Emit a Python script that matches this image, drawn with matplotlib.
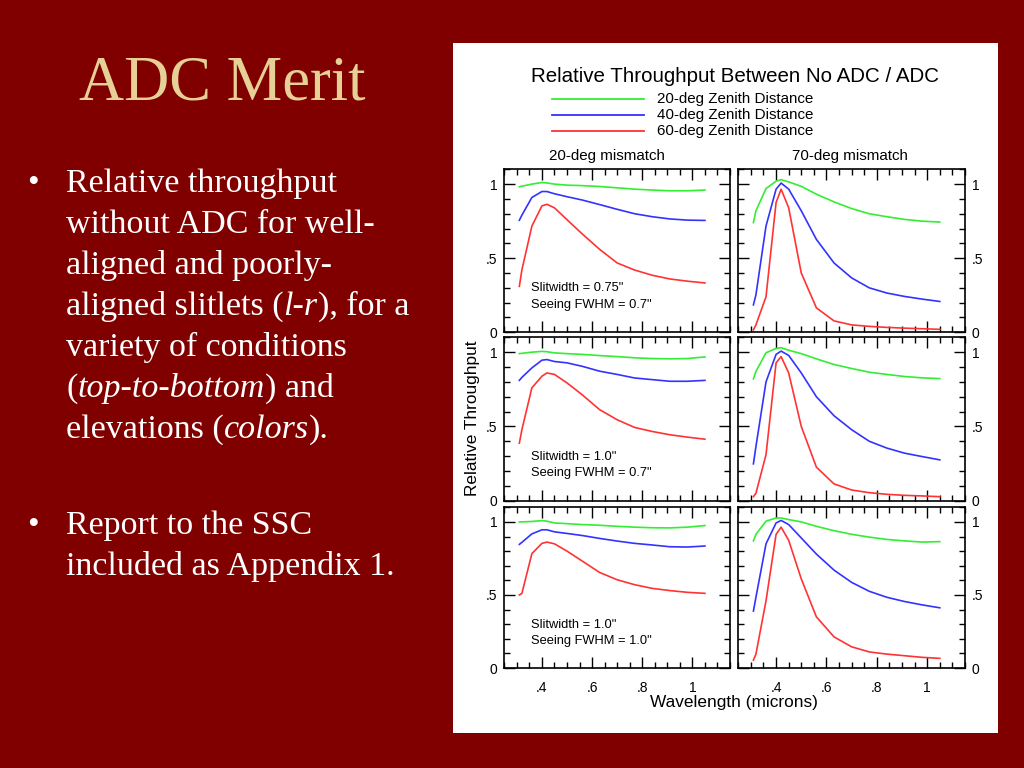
import numpy as np
import matplotlib
matplotlib.use('Agg')
import matplotlib.pyplot as plt
from matplotlib.lines import Line2D
from matplotlib.patches import Rectangle
from matplotlib.ticker import MultipleLocator

# ---- data ----
wavelength = [0.31, 0.32, 0.36, 0.40, 0.42, 0.45, 0.50, 0.56, 0.63, 0.70, 0.77, 0.84, 0.91, 0.98, 1.05]

# left column = 20-deg mismatch, right column = 70-deg mismatch
# row 1: slit 0.75" / seeing 0.7", row 2: slit 1.0" / seeing 0.7", row 3: slit 1.0" / seeing 1.0"
zd20_left1 = [0.982, 0.986, 1.0, 1.011, 1.008, 1.0, 0.993, 0.99, 0.984, 0.975, 0.966, 0.96, 0.955, 0.955, 0.96]
zd40_left1 = [0.756, 0.79, 0.91, 0.95, 0.95, 0.935, 0.915, 0.893, 0.862, 0.83, 0.80, 0.78, 0.765, 0.757, 0.755]
zd60_left1 = [0.31, 0.42, 0.717, 0.853, 0.864, 0.84, 0.76, 0.665, 0.56, 0.468, 0.42, 0.385, 0.36, 0.345, 0.333]

zd20_right1 = [0.74, 0.82, 0.97, 1.02, 1.03, 1.015, 0.985, 0.932, 0.88, 0.835, 0.80, 0.78, 0.762, 0.75, 0.744]
zd40_right1 = [0.185, 0.253, 0.717, 0.966, 1.007, 0.966, 0.82, 0.627, 0.468, 0.367, 0.30, 0.265, 0.242, 0.224, 0.208]
zd60_right1 = [0.016, 0.05, 0.24, 0.876, 0.966, 0.84, 0.40, 0.165, 0.077, 0.05, 0.04, 0.033, 0.028, 0.024, 0.02]

zd20_left2 = [0.99, 0.992, 1.0, 1.005, 1.003, 0.995, 0.99, 0.985, 0.977, 0.97, 0.962, 0.957, 0.955, 0.957, 0.968]
zd40_left2 = [0.81, 0.83, 0.894, 0.946, 0.95, 0.937, 0.928, 0.905, 0.872, 0.85, 0.826, 0.815, 0.804, 0.804, 0.81]
zd60_left2 = [0.387, 0.477, 0.76, 0.838, 0.86, 0.85, 0.793, 0.714, 0.613, 0.545, 0.493, 0.466, 0.444, 0.428, 0.414]

zd20_right2 = [0.82, 0.87, 0.996, 1.025, 1.03, 1.013, 0.99, 0.955, 0.917, 0.89, 0.865, 0.85, 0.836, 0.827, 0.822]
zd40_right2 = [0.248, 0.365, 0.80, 0.985, 1.007, 0.978, 0.86, 0.70, 0.572, 0.478, 0.40, 0.354, 0.32, 0.297, 0.275]
zd60_right2 = [0.027, 0.05, 0.31, 0.928, 0.97, 0.86, 0.50, 0.226, 0.113, 0.072, 0.054, 0.043, 0.036, 0.032, 0.027]

zd20_left3 = [1.0, 1.0, 1.003, 1.009, 1.005, 0.993, 0.988, 0.982, 0.977, 0.97, 0.964, 0.96, 0.959, 0.964, 0.975]
zd40_left3 = [0.846, 0.86, 0.918, 0.946, 0.946, 0.932, 0.921, 0.907, 0.887, 0.869, 0.853, 0.842, 0.83, 0.828, 0.835]
zd60_left3 = [0.50, 0.51, 0.783, 0.853, 0.862, 0.85, 0.80, 0.733, 0.654, 0.604, 0.57, 0.545, 0.53, 0.518, 0.511]

zd20_right3 = [0.87, 0.915, 1.005, 1.027, 1.027, 1.016, 1.0, 0.97, 0.94, 0.915, 0.896, 0.88, 0.87, 0.862, 0.865]
zd40_right3 = [0.39, 0.484, 0.85, 0.993, 1.01, 0.982, 0.89, 0.78, 0.67, 0.586, 0.525, 0.484, 0.455, 0.432, 0.412]
zd60_right3 = [0.054, 0.095, 0.46, 0.915, 0.964, 0.874, 0.61, 0.35, 0.213, 0.145, 0.11, 0.095, 0.084, 0.073, 0.066]

series_names = ['20-deg Zenith Distance', '40-deg Zenith Distance', '60-deg Zenith Distance']
column_titles = ['20-deg mismatch', '70-deg mismatch']
panel_notes = [('Slitwidth = 0.75"', 'Seeing FWHM = 0.7"'),
               ('Slitwidth = 1.0"', 'Seeing FWHM = 0.7"'),
               ('Slitwidth = 1.0"', 'Seeing FWHM = 1.0"')]
xtick_vals = [0.4, 0.6, 0.8, 1.0]
xtick_labels = ['.4', '.6', '.8', '1']
ytick_vals = [0, 0.5, 1]
ytick_labels = ['0', '.5', '1']

left_panels = [(zd20_left1, zd40_left1, zd60_left1),
               (zd20_left2, zd40_left2, zd60_left2),
               (zd20_left3, zd40_left3, zd60_left3)]
right_panels = [(zd20_right1, zd40_right1, zd60_right1),
                (zd20_right2, zd40_right2, zd60_right2),
                (zd20_right3, zd40_right3, zd60_right3)]

line_colors = ['#33ee33', '#3333ff', '#ff3333']
bg_red = '#800000'
title_gold = '#e6d096'
serif = 'Liberation Serif'
sans = 'Liberation Sans'

W, H = 1024, 768
fig = plt.figure(figsize=(W / 100, H / 100), dpi=100, facecolor=bg_red)


def px(x, y):
    return x / W, 1 - y / H


# white panel behind the plot
fig.add_artist(Rectangle(px(453, 733), 545 / W, 690 / H, transform=fig.transFigure,
                         facecolor='white', edgecolor='none', zorder=0))

# ---- slide text ----
fig.text(*px(222, 100), 'ADC Merit', family=serif, fontsize=45, color=title_gold,
         ha='center', va='baseline')

renderer = fig.canvas.get_renderer()


def draw_runs(x, y, runs, size=24.5):
    # runs: list of (text, italic?)
    fx, fy = px(x, y)
    for txt, it in runs:
        t = fig.text(fx, fy, txt, family=serif, fontsize=size, color='white',
                     style='italic' if it else 'normal', ha='left', va='baseline')
        bb = t.get_window_extent(renderer=renderer)
        fx += bb.width / W


bullet1 = [
    [('Relative throughput', False)],
    [('without ADC for well-', False)],
    [('aligned and poorly-', False)],
    [('aligned slitlets (', False), ('l-r', True), ('), for a', False)],
    [('variety of conditions', False)],
    [('(', False), ('top-to-bottom', True), (') and', False)],
    [('elevations (', False), ('colors', True), (').', False)],
]
bullet2 = [
    [('Report to the SSC', False)],
    [('included as Appendix 1.', False)],
]

y0 = 192
for i, line in enumerate(bullet1):
    draw_runs(66, y0 + i * 41, line)
fig.text(*px(27, y0), '\u2022', family=serif, fontsize=24, color='white', va='baseline')

y1 = 534
for i, line in enumerate(bullet2):
    draw_runs(66, y1 + i * 41, line)
fig.text(*px(27, y1), '\u2022', family=serif, fontsize=24, color='white', va='baseline')

# ---- chart title and legend ----
fig.text(*px(735, 76.5), 'Relative Throughput Between No ADC / ADC', family=sans,
         fontsize=14.8, ha='center', va='center')
for i, name in enumerate(series_names):
    yy = 99 + i * 16
    fig.add_artist(Line2D([552 / W, 644 / W], [1 - yy / H, 1 - yy / H],
                          transform=fig.transFigure, color=line_colors[i], lw=1.3))
    fig.text(*px(657, yy), name, family=sans, fontsize=10.9, va='center')

fig.text(*px(607, 156), column_titles[0], family=sans, fontsize=10.9, ha='center', va='center')
fig.text(*px(849.5, 156), column_titles[1], family=sans, fontsize=10.9, ha='center', va='center')

# ---- 3 x 2 panels ----
col_x = [(504.3, 730), (738.3, 965)]
row_y = [(169.3, 332.3), (337.3, 500.7), (507.3, 668)]

for r in range(3):
    for c in range(2):
        x0, x1 = col_x[c]
        ytop, ybot = row_y[r]
        ax = fig.add_axes([x0 / W, 1 - ybot / H, (x1 - x0) / W, (ybot - ytop) / H])
        data = left_panels[r] if c == 0 else right_panels[r]
        for vals, col in zip(data, line_colors):
            ax.plot(wavelength, vals, color=col, lw=1.2)
        ax.set_xlim(0.25, 1.15)
        ax.set_ylim(0, 1.1)
        ax.set_xticks(xtick_vals)
        ax.xaxis.set_minor_locator(MultipleLocator(0.05))
        ax.set_yticks(ytick_vals)
        ax.yaxis.set_minor_locator(MultipleLocator(0.1))
        ax.tick_params(which='both', direction='in', top=True, right=True,
                       width=1.0, color='black')
        ax.tick_params(which='major', length=8)
        ax.tick_params(which='minor', length=4)
        for s in ax.spines.values():
            s.set_linewidth(1.2)
        ax.tick_params(axis='y', pad=5, labelsize=10)
        ax.tick_params(axis='x', pad=9, labelsize=10)
        if c == 0:
            ax.set_yticklabels(ytick_labels, family=sans)
            ax.text(0.356, 0.276, panel_notes[r][0], family=sans, fontsize=9.3)
            ax.text(0.356, 0.163, panel_notes[r][1], family=sans, fontsize=9.3)
        else:
            ax.yaxis.tick_right()
            ax.tick_params(which='both', left=True, right=True, labelleft=False, labelright=True)
            ax.set_yticklabels(ytick_labels, family=sans)
        if r == 2:
            ax.set_xticklabels(xtick_labels, family=sans)
        else:
            ax.tick_params(labelbottom=False)

fig.text(*px(472, 418), 'Relative Throughput', family=sans, fontsize=12.4,
         rotation=90, ha='center', va='center')
fig.text(*px(734, 702), 'Wavelength (microns)', family=sans, fontsize=12.4,
         ha='center', va='center')

fig.savefig('out.png', dpi=100, facecolor=bg_red)
